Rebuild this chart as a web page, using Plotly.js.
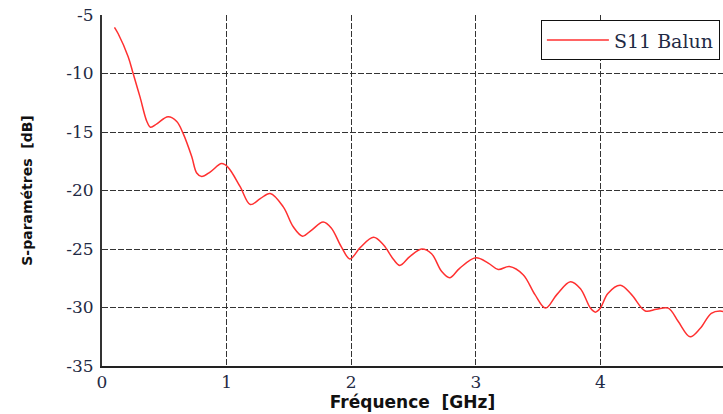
<!DOCTYPE html>
<html>
<head>
<meta charset="utf-8">
<script src="https://cdn.plot.ly/plotly-3.0.1.min.js"></script>
<style>html,body{margin:0;padding:0;background:#fff;}#chart{width:723px;height:414px;}</style>
</head>
<body>
<div id="chart"></div>
<script>
var freqGHz = [0.1,0.13,0.21,0.25,0.305,0.36,0.39,0.44,0.53,0.60,0.65,0.72,0.76,0.80,0.87,0.96,1.01,1.11,1.19,1.27,1.35,1.455,1.535,1.61,1.68,1.775,1.84,1.92,1.99,2.07,2.18,2.26,2.34,2.39,2.47,2.565,2.645,2.725,2.79,2.87,3.0,3.1,3.18,3.27,3.38,3.475,3.56,3.65,3.76,3.84,3.92,3.96,4.0,4.06,4.16,4.25,4.36,4.45,4.545,4.625,4.72,4.80,4.89,4.96,5.0];
var s11dB = [-6.05,-6.6,-8.56,-10.0,-12.0,-14.1,-14.6,-14.3,-13.7,-14.1,-15.1,-17.1,-18.5,-18.8,-18.4,-17.7,-18.0,-19.7,-21.2,-20.7,-20.25,-21.4,-23.1,-23.9,-23.4,-22.7,-23.2,-24.8,-25.85,-24.9,-24.0,-24.66,-25.9,-26.4,-25.65,-25.0,-25.4,-26.9,-27.45,-26.65,-25.75,-26.2,-26.75,-26.5,-27.2,-28.9,-30.05,-28.9,-27.8,-28.4,-30.05,-30.4,-30.05,-28.8,-28.1,-28.9,-30.3,-30.15,-30.05,-31.2,-32.5,-31.8,-30.5,-30.3,-30.4];
var xTicks = [0,1,2,3,4,5];
var yTicks = [-35,-30,-25,-20,-15,-10,-5];
var seriesName = 'S11 Balun';

var trace = {
  x: freqGHz, y: s11dB, name: seriesName, type: 'scatter', mode: 'lines',
  line: {color: '#ff3030', width: 1.5, shape: 'spline', smoothing: 1},
  showlegend: true
};
var xTickFont = {family: 'DejaVu Serif, serif', size: 17, color: '#1f2a44'};
var yTickFont = {family: 'DejaVu Serif, serif', size: 17, color: '#1f2a44'};
var titleFamily = 'DejaVu Sans, Verdana, sans-serif';
var layout = {
  width: 723, height: 414,
  margin: {l: 102, r: 0, t: 15, b: 48},
  paper_bgcolor: '#fff', plot_bgcolor: '#fff',
  xaxis: {
    range: [0, 4.984], tickvals: xTicks, ticktext: xTicks.map(String),
    showgrid: true, gridcolor: '#333', griddash: '6px,2px', gridwidth: 1,
    zeroline: false, showline: true, linecolor: '#222', linewidth: 2,
    ticks: '', tickfont: xTickFont,
    title: {text: 'Fréquence  [GHz]', standoff: 3, font: {family: titleFamily, size: 17, color: '#111', weight: 'bold'}}
  },
  yaxis: {
    range: [-35, -5], tickvals: yTicks, ticktext: yTicks.map(String),
    showgrid: true, gridcolor: '#333', griddash: '6px,2px', gridwidth: 1,
    zeroline: false, showline: true, linecolor: '#333', linewidth: 2,
    ticks: '', tickfont: yTickFont, ticklabelstandoff: 3,
    title: {text: 'S-paramétres  [dB]', standoff: 30, font: {family: titleFamily, size: 14, color: '#111', weight: 'bold'}}
  },
  legend: {
    x: 0.995, xanchor: 'right', y: 0.985, yanchor: 'top',
    bgcolor: '#fff', bordercolor: '#111', borderwidth: 1,
    font: {family: 'DejaVu Serif, serif', size: 19, color: '#1f2a44'},
    itemwidth: 62, tracegroupgap: 0
  },
  showlegend: true
};
Plotly.newPlot('chart', [trace], layout, {displayModeBar: false, staticPlot: true});
</script>
</body>
</html>
